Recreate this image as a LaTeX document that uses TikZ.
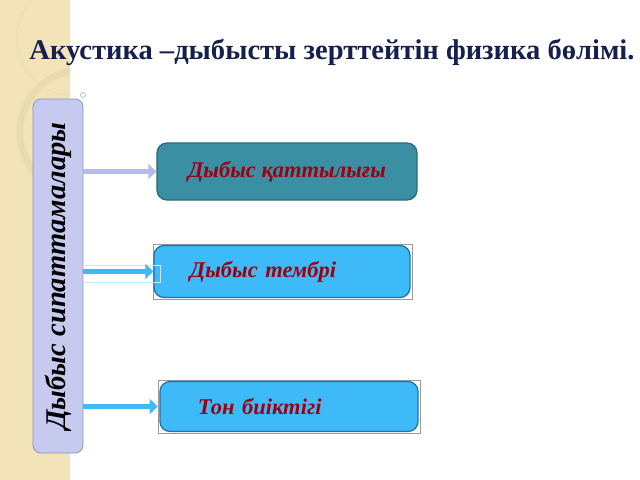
\documentclass[tikz,border=0pt]{standalone}
\usepackage{fontspec}
\setmainfont{Liberation Serif}
\usetikzlibrary{arrows.meta}
\definecolor{strip}{HTML}{F3E3B9}
\definecolor{stripline}{HTML}{EBDAAE}
\definecolor{titleblue}{HTML}{16204E}
\definecolor{lavdark}{HTML}{8E95C4}
\definecolor{lavfill}{HTML}{B5BBE4}
\definecolor{lavlight}{HTML}{C6CAEE}
\definecolor{tealfill}{HTML}{3A8FA3}
\definecolor{tealdark}{HTML}{2A6C7C}
\definecolor{skyfill}{HTML}{3DBAF7}
\definecolor{skydark}{HTML}{2272A6}
\definecolor{wordred}{HTML}{9E0012}

\begin{document}
\begin{tikzpicture}[x=0.025cm, y=-0.025cm,
  >={Triangle[length=0.2cm, width=0.38cm]},
  item/.style={rounded corners=0.25cm, line width=0.9pt, text=wordred,
    font=\bfseries\itshape\fontsize{16}{19}\selectfont},
  frame/.style={draw=gray!80, line width=0.5pt},
  linklav/.style={->, draw=lavfill, line width=4.2pt},
  linksky/.style={->, draw=skyfill, line width=4.2pt}]
\useasboundingbox (0,0) rectangle (640,480);

% Background strip
\fill[strip] (0,0) rectangle (70,480);
\begin{scope}
\clip (0,0) rectangle (70,480);
\draw[stripline, line width=0.6pt] (75,38) circle (58);
\draw[stripline, line width=5pt] (82,132) circle (62);
\end{scope}

% Title
\node[text=titleblue, font=\bfseries\fontsize{20.3}{24}\selectfont] (title) at (332,52)
  {Акустика –дыбысты зерттейтін физика бөлімі.};

% Characteristics
\node[rotate=90, draw=lavdark, line width=0.6pt, rounded corners=0.2cm,
  fill=lavlight, minimum width=8.85cm, minimum height=1.25cm,
  font=\bfseries\itshape\fontsize{20.3}{24}\selectfont] (chars) at (58,276)
  {Дыбыс сипаттамалары};
\draw[lavdark!70, line width=0.5pt] (83,95) circle (2.5);

% Loudness
\node[item, fill=tealfill, draw=tealdark, minimum width=6.5cm, minimum height=1.425cm]
  (loud) at (287,171.5) {Дыбыс қаттылығы};

% Timbre
\node[frame, minimum width=6.475cm, minimum height=1.375cm] (timbreframe) at (282.5,271.5) {};
\node[item, fill=skyfill, draw=skydark, minimum width=6.4cm, minimum height=1.3cm,
  inner xsep=0.9cm, text width=4.6cm, align=left] (timbre) at (282,271.5) {Дыбыс тембрі};

% Pitch
\node[frame, minimum width=6.55cm, minimum height=1.325cm] (pitchframe) at (289,406.5) {};
\node[item, fill=skyfill, draw=skydark, minimum width=6.45cm, minimum height=1.25cm,
  inner xsep=0.95cm, text width=4.55cm, align=left] (pitch) at (289,406.5) {Тон биіктігі};

% Arrows
\draw[linklav] (chars.south |- loud.west) -- (loud.west);
\draw[skyfill!30, line width=0.5pt] (83,265) rectangle (160,282);
\draw[linksky] (chars.south |- timbre.west) -- (timbre.west);
\draw[linksky] (chars.south |- pitchframe.west) -- (pitchframe.west);
\end{tikzpicture}
\end{document}
